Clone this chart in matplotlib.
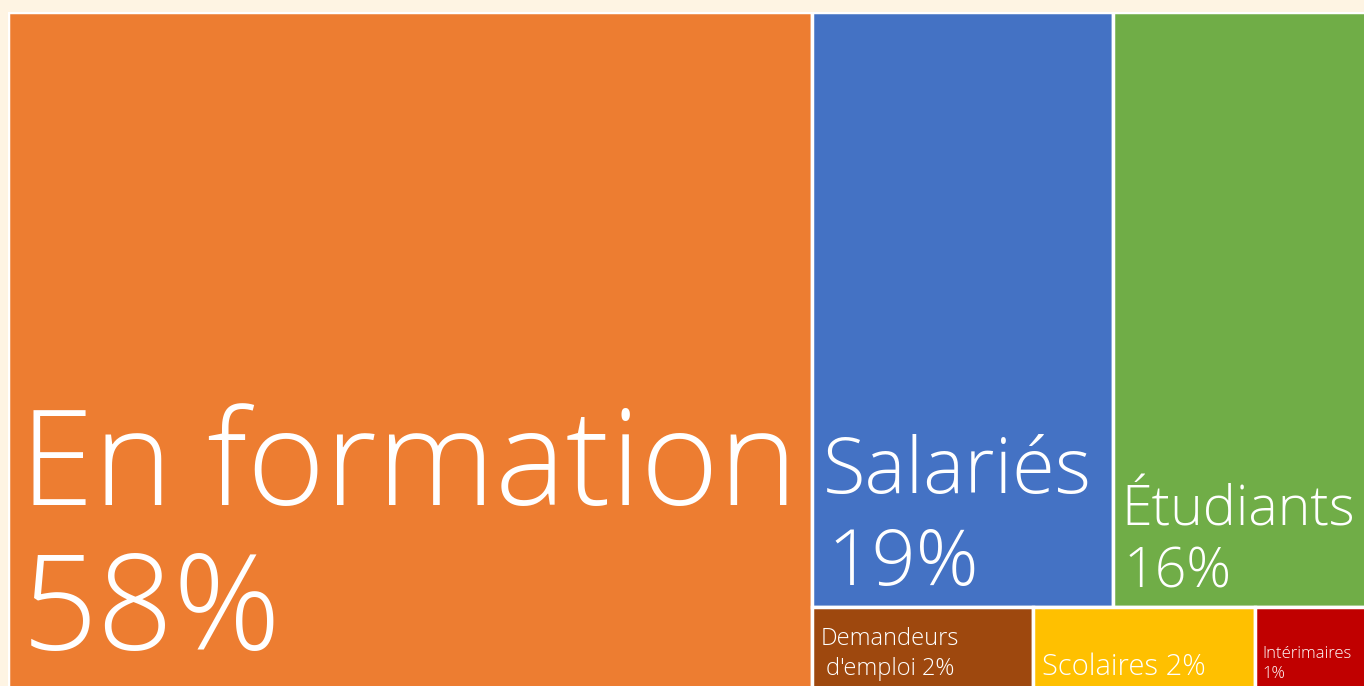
import matplotlib
matplotlib.use('Agg')
import matplotlib.pyplot as plt
from matplotlib.patches import Rectangle

# données (%)
labels = ['En formation', 'Salariés', 'Étudiants', 'Demandeurs\nd\'emploi', 'Scolaires', 'Intérimaires']
values = [58, 19, 16, 2, 2, 1]
colors = ['#ED7D31', '#4472C4', '#70AD47', '#9E480E', '#FFC000', '#C00000']

sizes = [96, 56, 40, 17, 21, 12]

bg = '#FEF4E3'
fig = plt.figure(figsize=(13.64, 6.86), dpi=100, facecolor=bg)
ax = fig.add_axes([8/1364, -6/686, 1358/1364, 680/686])
ax.set_facecolor(bg)
total = sum(values)

# mise en page : 1re catégorie en colonne, le reste en deux lignes
rects = []
w0 = values[0]
rects.append((0, 0, w0, 1))
rest = values[1:]
rw = total - w0
top = rest[:2]
bot = rest[2:]
h_top = sum(top) / sum(rest)
x = w0
for v in top:
    w = v / sum(top) * rw
    rects.append((x, 0, w, h_top))
    x += w
x = w0
for v in bot:
    w = v / sum(bot) * rw
    rects.append((x, h_top, w, 1 - h_top))
    x += w

for (x, y, w, h), c in zip(rects, colors):
    ax.add_patch(Rectangle((x, y), w, h, facecolor=c, edgecolor='white', linewidth=2.5))

ax.set_xlim(0, total)
ax.set_ylim(1, 0)
ax.axis('off')

# positions des textes (pixels depuis le coin haut-gauche, ligne de base)
offs = [[(12, 493, 'En formation'), (14, 638, '58%')],
        [(11, 481, 'Salariés'), (16, 573, '19%')],
        [(9, 513, 'Étudiants'), (11, 576, '16%')],
        [(9, 38, 'Demandeurs'), (14, 68, "d'emploi 2%")],
        [(9, 68, 'Scolaires 2%')],
        [(7, 51, 'Intérimaires'), (7, 71, '1%')]]
for (x, y, w, h), lines, s in zip(rects, offs, sizes):
    for dx, dy, t in lines:
        ax.annotate(t, xy=(x, y), xytext=(dx, -dy), textcoords='offset pixels',
                    ha='left', va='baseline', color='white', fontsize=s,
                    family=['Open Sans', 'DejaVu Sans'], fontweight='light')

fig.savefig('out.png', dpi=100, facecolor=bg)
